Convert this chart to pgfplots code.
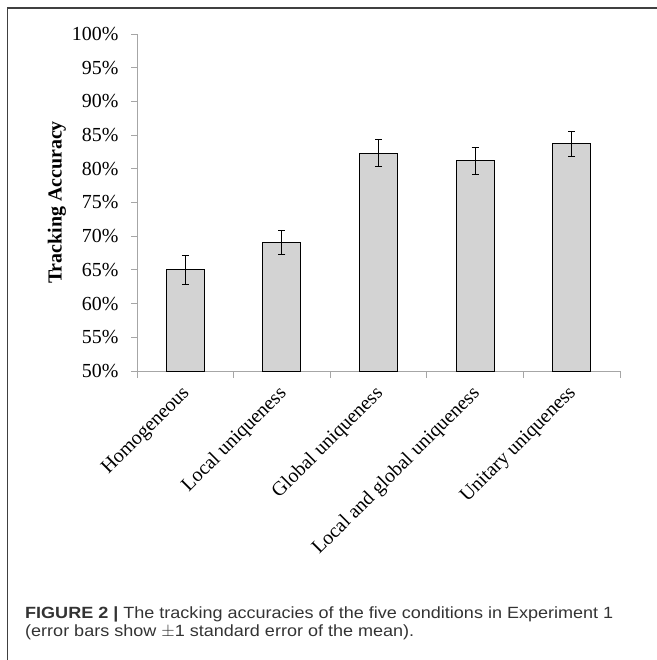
\documentclass[border=0pt]{standalone}
\usepackage{pgfplots}
\pgfplotsset{compat=1.18}
\usepackage{fontspec}
\setmainfont{Liberation Serif}
\newfontfamily\capfont[FakeStretch=1.11]{Liberation Sans}
\definecolor{barfill}{HTML}{D3D3D3}
\definecolor{axgray}{HTML}{A6A6A6}
\definecolor{frame}{HTML}{404040}
\definecolor{captext}{HTML}{333333}
\begin{document}
\begin{tikzpicture}[x=1bp,y=1bp]
\path[use as bounding box] (0,0) rectangle (657,660);
\draw[frame, line width=1.3bp] (7.5,0) -- (7.5,652) -- (657,652);
\begin{axis}[
  at={(137bp,289bp)}, anchor=south west,
  scale only axis, width=483bp, height=337bp,
  xmin=0.5, xmax=5.5, ymin=50, ymax=100,
  axis lines=left, axis line style={-, axgray, line width=0.9bp},
  tick align=outside,
  ytick={50,55,...,100},
  yticklabels={50\%,55\%,60\%,65\%,70\%,75\%,80\%,85\%,90\%,95\%,100\%},
  yticklabel style={font=\fontsize{20}{24}\selectfont, xshift=-9bp},
  major tick length=6bp, minor tick length=7bp,
  ytick style={axgray, line width=0.9bp},
  xtick={1,2,3,4,5},
  xticklabels={Homogeneous, Local uniqueness, Global uniqueness, Local and global uniqueness, Unitary uniqueness},
  major x tick style={draw=none},
  minor xtick={0.5,1.5,2.5,3.5,4.5,5.5},
  minor x tick style={axgray, line width=0.9bp},
  xticklabel style={font=\fontsize{20}{24}\selectfont, rotate=45, anchor=north east, inner sep=0pt, xshift=-8.25bp, yshift=-1.75bp},
  ylabel={Tracking Accuracy},
  ylabel style={font=\fontsize{20}{24}\selectfont\bfseries, at={(axis description cs:-0.166,0.5)}, anchor=center},
  clip=false,
]
\addplot[ybar, bar width=38bp, fill=barfill, draw=black, line width=0.9bp,
  error bars/.cd, y dir=both, y explicit,
  error bar style={black, line width=0.9bp},
  error mark options={rotate=90, mark size=3.5bp, black, line width=0.9bp}]
  coordinates {
  (1,65.0) +- (0,2.1)
  (2,69.1) +- (0,1.8)
  (3,82.3) +- (0,2.0)
  (4,81.2) +- (0,2.0)
  (5,83.7) +- (0,1.8)
  };
\end{axis}
\node[anchor=base west, inner sep=0pt, text=captext, font=\capfont\fontsize{16.3}{19}\selectfont] at (25,41) {\textbf{FIGURE 2 |} The tracking accuracies of the five conditions in Experiment 1};
\node[anchor=base west, inner sep=0pt, text=captext, font=\capfont\fontsize{16.3}{19}\selectfont] at (25,23) {(error bars show $\pm$1 standard error of the mean).};
\end{tikzpicture}
\end{document}
